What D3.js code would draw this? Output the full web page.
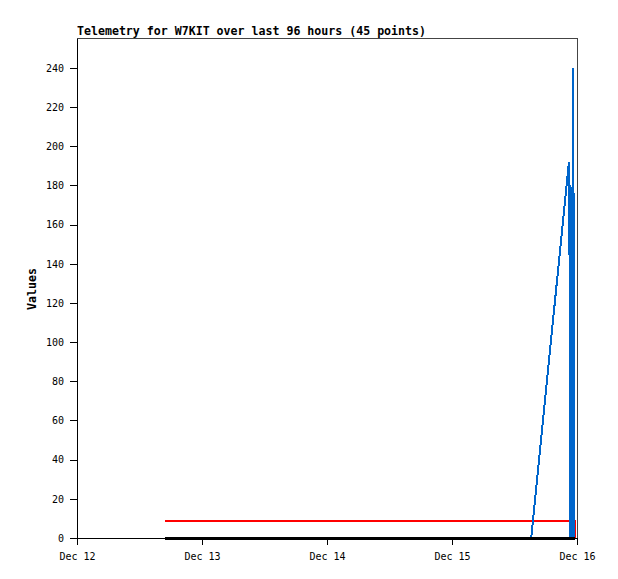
<!DOCTYPE html>
<html>
<head>
<meta charset="utf-8">
<script src="https://cdn.jsdelivr.net/npm/d3@7"></script>
<style>
  body { margin: 0; background: #fff; }
  svg { display: block; }
</style>
</head>
<body>
<div id="chart"></div>
<script>
// hours since Dec 12 00:00
const hours = [16.90, 87.20, 94.45, 94.55, 94.60, 94.63, 94.66, 94.69, 94.72, 94.75,
               94.78, 94.81, 94.84, 94.87, 94.90, 94.93, 94.96, 94.99, 95.02, 95.05,
               95.08, 95.11, 95.14, 95.17, 95.20, 95.23, 95.26, 95.29, 95.32, 95.35,
               95.37, 95.40, 95.42, 95.44, 95.46, 95.48, 95.50, 95.52, 95.54, 95.56,
               95.58, 95.60, 95.62, 95.64, 95.70];
const blueVals = [0, 0, 192, 185, 0, 178, 0, 180, 0, 177,
                  0, 179, 0, 176, 0, 178, 0, 177, 0, 179,
                  0, 176, 0, 240, 0, 177, 0, 178, 0, 176,
                  0, 0, 0, 0, 0, 0, 0, 0, 0, 0,
                  0, 0, 0, 0, 0];
const redVals = [8.7, 8.7, 8.7, 8.7, 8.7, 8.7, 8.7, 8.7, 8.7, 8.7,
                 8.7, 8.7, 8.7, 8.7, 8.7, 8.7, 8.7, 8.7, 8.7, 8.7,
                 8.7, 8.7, 8.7, 8.7, 8.7, 8.7, 8.7, 8.7, 8.7, 8.7,
                 8.7, 8.7, 8.7, 8.7, 8.7, 8.7, 8.7, 8.7, 8.7, 8.7,
                 8.7, 8.7, 8.7, 8.7, 0];
const blackVals = [0, 0, 0, 0, 0, 0, 0, 0, 0, 0,
                   0, 0, 0, 0, 0, 0, 0, 0, 0, 0,
                   0, 0, 0, 0, 0, 0, 0, 0, 0, 0,
                   0, 0, 0, 0, 0, 0, 0, 0, 0, 0,
                   0, 0, 0, 0, 0];

const xTickHours = [0, 24, 48, 72, 96];
const xTickLabels = ["Dec 12", "Dec 13", "Dec 14", "Dec 15", "Dec 16"];
const yTicks = [0, 20, 40, 60, 80, 100, 120, 140, 160, 180, 200, 220, 240];

const width = 618, height = 579;
const mLeft = 77, mRight = 577, mTop = 38, mBottom = 538;
const mono = "'DejaVu Sans Mono', 'Liberation Mono', monospace";

const svg = d3.select("#chart").append("svg")
    .attr("width", width)
    .attr("height", height)
    .style("font-family", mono);

const x = d3.scaleLinear().domain([0, 96]).range([mLeft, mRight]);
const y = d3.scaleLinear().domain([0, 255.3]).range([mBottom, mTop]);

// frame (top and right)
svg.append("path")
    .attr("d", `M${mLeft},${mTop + 0.5}H${mRight + 0.5}V${mBottom}`)
    .attr("fill", "none")
    .attr("stroke", "#444")
    .attr("shape-rendering", "crispEdges");

// y axis
const yAxis = svg.append("g")
    .attr("transform", `translate(${mLeft},0)`)
    .call(d3.axisLeft(y).tickValues(yTicks).tickSize(7).tickSizeOuter(0).tickPadding(6));
yAxis.attr("font-family", mono).attr("font-size", 10);
yAxis.selectAll("text").attr("fill", "#000");
yAxis.selectAll("line, path").attr("stroke", "#000").attr("shape-rendering", "crispEdges");

// x axis
const xAxis = svg.append("g")
    .attr("transform", `translate(0,${mBottom})`)
    .call(d3.axisBottom(x).tickValues(xTickHours).tickFormat((d, i) => xTickLabels[i])
        .tickSize(7).tickSizeOuter(0).tickPadding(8));
xAxis.attr("font-family", mono).attr("font-size", 10);
xAxis.selectAll("text").attr("fill", "#000");
xAxis.selectAll("line, path").attr("stroke", "#000").attr("shape-rendering", "crispEdges");

// series
const series = [
    { vals: redVals, color: "#ff0000", w: 2 },
    { vals: blueVals, color: "#0066cc", w: 2 },
    { vals: blackVals, color: "#000000", w: 3 }
];
series.forEach(s => {
    const line = d3.line()
        .x((d, i) => x(hours[i]))
        .y(d => y(d));
    svg.append("path")
        .datum(s.vals)
        .attr("d", line)
        .attr("fill", "none")
        .attr("stroke", s.color)
        .attr("stroke-width", s.w)
        .attr("shape-rendering", "crispEdges");
});

// title
svg.append("text")
    .attr("x", mLeft)
    .attr("y", 35)
    .style("font-size", "11.6px")
    .style("font-weight", "bold")
    .text("Telemetry for W7KIT over last 96 hours (45 points)");

// y label
svg.append("text")
    .attr("transform", `translate(36,289) rotate(-90)`)
    .attr("text-anchor", "middle")
    .style("font-size", "11.6px")
    .style("font-weight", "bold")
    .text("Values");
</script>
</body>
</html>
